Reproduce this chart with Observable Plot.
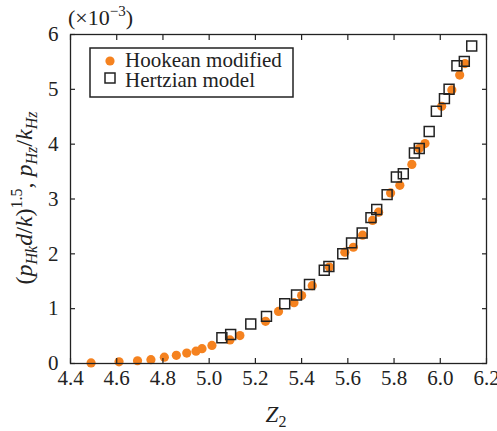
<!DOCTYPE html>
<html>
<head>
<meta charset="utf-8">
<script src="https://cdn.jsdelivr.net/npm/d3@7"></script>
<script src="https://cdn.jsdelivr.net/npm/@observablehq/plot@0.6"></script>
<style>
  body { margin: 0; background: #fff; }
  #chart svg { display: block; }
</style>
</head>
<body>
<div id="chart"></div>
<script>
// Hookean (modified) model: Z2 and (p_Hk d/k)^1.5, in units of 1e-3
const hookeanZ = [4.489, 4.61, 4.69, 4.748, 4.806, 4.858, 4.903, 4.943, 4.969, 5.012,
  5.09, 5.133, 5.244, 5.30, 5.367, 5.40, 5.446, 5.52, 5.587, 5.624,
  5.664, 5.707, 5.733, 5.785, 5.825, 5.877, 5.909, 5.934, 6.006, 6.05,
  6.084, 6.107];
const hookeanP = [0.01, 0.03, 0.05, 0.07, 0.115, 0.15, 0.19, 0.225, 0.27, 0.33,
  0.43, 0.51, 0.77, 0.95, 1.11, 1.24, 1.42, 1.76, 2.03, 2.12,
  2.34, 2.61, 2.76, 3.11, 3.25, 3.63, 3.92, 4.01, 4.69, 4.99,
  5.26, 5.47];

// Hertzian model: Z2 and p_Hz/k_Hz, in units of 1e-3
const hertzZ = [5.055, 5.093, 5.18, 5.248, 5.327, 5.378, 5.434, 5.498, 5.518, 5.578,
  5.616, 5.662, 5.70, 5.725, 5.77, 5.81, 5.84, 5.888, 5.909, 5.952,
  5.983, 6.018, 6.038, 6.072, 6.104, 6.136];
const hertzP = [0.47, 0.53, 0.72, 0.86, 1.09, 1.25, 1.44, 1.70, 1.77, 2.00,
  2.20, 2.38, 2.66, 2.81, 3.08, 3.40, 3.46, 3.84, 3.92, 4.23,
  4.60, 4.83, 5.00, 5.43, 5.51, 5.79];

const xTicks = [4.4, 4.6, 4.8, 5.0, 5.2, 5.4, 5.6, 5.8, 6.0, 6.2];
const yTicks = [0, 1, 2, 3, 4, 5, 6];
const seriesNames = ["Hookean modified", "Hertzian model"];

const hookean = hookeanZ.map((z, i) => ({z, p: hookeanP[i]}));
const hertz = hertzZ.map((z, i) => ({z, p: hertzP[i]}));

const font = "'Liberation Serif', 'Times New Roman', serif";
const orange = "#f5821f";
const ink = "#222";
const W = 497, H = 431;
const M = {left: 70, right: 11, top: 34, bottom: 68};
const fs = 21;

const plot = Plot.plot({
  width: W,
  height: H,
  marginLeft: M.left,
  marginRight: M.right,
  marginTop: M.top,
  marginBottom: M.bottom,
  style: {fontFamily: font, fontSize: fs + "px", color: ink, background: "#fff", overflow: "visible"},
  x: {domain: [4.4, 6.2]},
  y: {domain: [0, 6]},
  marks: [
    Plot.dot(hookean, {x: "z", y: "p", r: 4.6, fill: orange, stroke: "none"}),
    Plot.dot(hertz, {x: "z", y: "p", symbol: "square", r: 5.6, fill: "none", stroke: ink, strokeWidth: 1.5}),
    Plot.axisX(xTicks, {anchor: "bottom", tickSize: -5, tickPadding: 12, tickFormat: d3.format(".1f"), label: null, fontSize: fs, strokeWidth: 1.2}),
    Plot.axisX(xTicks, {anchor: "top", tickSize: -5, tickFormat: () => "", label: null, strokeWidth: 1.2}),
    Plot.axisY(yTicks, {anchor: "left", tickSize: -5, tickPadding: 17, tickFormat: d3.format("d"), label: null, fontSize: fs, strokeWidth: 1.2}),
    Plot.axisY(yTicks, {anchor: "right", tickSize: -5, tickFormat: () => "", label: null, strokeWidth: 1.2}),
    Plot.frame({stroke: ink, strokeWidth: 1.3})
  ]
});

document.getElementById("chart").appendChild(plot);
const svg = d3.select(plot);

// Exponent note above the y axis
const expo = svg.append("text")
  .attr("x", 68).attr("y", 25)
  .attr("text-anchor", "start")
  .attr("font-family", font).attr("font-size", 22).attr("fill", ink);
expo.append("tspan").text("(×10");
expo.append("tspan").attr("font-size", 15).attr("dy", -9).text("−3");
expo.append("tspan").attr("dy", 9).text(")");

// y axis title: (p_Hk d/k)^1.5, p_Hz/k_Hz
const sub = 16;
const yTitle = svg.append("text")
  .attr("transform", "translate(32,198) rotate(-90)")
  .attr("text-anchor", "middle")
  .attr("font-family", font).attr("font-size", 24).attr("fill", ink);
yTitle.append("tspan").text("(");
yTitle.append("tspan").attr("font-style", "italic").text("p");
yTitle.append("tspan").attr("font-style", "italic").attr("font-size", sub).attr("dy", 5).text("Hk");
yTitle.append("tspan").attr("font-style", "italic").attr("dy", -5).text("d");
yTitle.append("tspan").text("/");
yTitle.append("tspan").attr("font-style", "italic").text("k");
yTitle.append("tspan").text(")");
yTitle.append("tspan").attr("font-size", sub).attr("dy", -10).text("1.5");
yTitle.append("tspan").attr("dy", 10).text(", ");
yTitle.append("tspan").attr("font-style", "italic").text("p");
yTitle.append("tspan").attr("font-style", "italic").attr("font-size", sub).attr("dy", 5).text("Hz");
yTitle.append("tspan").attr("dy", -5).text("/");
yTitle.append("tspan").attr("font-style", "italic").text("k");
yTitle.append("tspan").attr("font-style", "italic").attr("font-size", sub).attr("dy", 5).text("Hz");

// x axis title: Z_2
const xTitle = svg.append("text")
  .attr("x", 276).attr("y", 422)
  .attr("text-anchor", "middle")
  .attr("font-family", font).attr("font-size", 23).attr("fill", ink);
xTitle.append("tspan").attr("font-style", "italic").text("Z");
xTitle.append("tspan").attr("font-size", sub).attr("dy", 5).text("2");

// Legend box
const lg = svg.append("g")
  .attr("font-family", font).attr("font-size", fs).attr("fill", ink)
  .attr("text-anchor", "start");
lg.append("rect")
  .attr("x", 90).attr("y", 48).attr("width", 203).attr("height", 49)
  .attr("fill", "#fff").attr("stroke", ink).attr("stroke-width", 1.5);
lg.append("circle").attr("cx", 110).attr("cy", 61).attr("r", 4.6).attr("fill", orange);
lg.append("rect").attr("x", 105).attr("y", 73).attr("width", 10).attr("height", 10)
  .attr("fill", "none").attr("stroke", ink).attr("stroke-width", 1.5);
lg.append("text").attr("x", 125).attr("y", 67).text(seriesNames[0]);
lg.append("text").attr("x", 125).attr("y", 87).text(seriesNames[1]);
</script>
</body>
</html>
